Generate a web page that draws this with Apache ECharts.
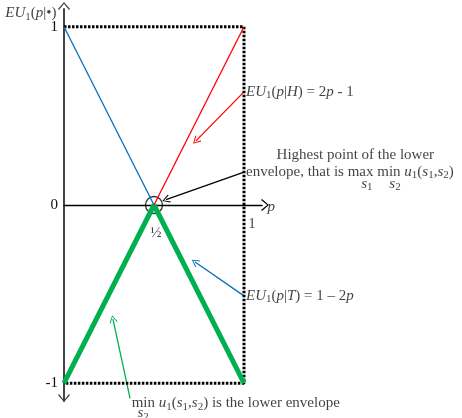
<!DOCTYPE html>
<html>
<head>
<meta charset="utf-8">
<script src="https://cdn.jsdelivr.net/npm/echarts@6/dist/echarts.min.js"></script>
<style>
  html, body { margin: 0; padding: 0; background: #fff; }
  #chart { width: 462px; height: 418px; }
</style>
</head>
<body>
<div id="chart"></div>
<script>
// probability p on the x axis, expected payoff on the y axis
var blueLine = [[0, 1], [0.5, 0]];          // EU1(p|T) = 1 - 2p, upper part
var redLine = [[0.5, 0], [1, 1]];           // EU1(p|H) = 2p - 1, upper part
var lowerEnvelope = [[0, -1], [0.5, 0], [1, -1]];
var boxLine = [[0, 1], [1, 1], [1, -1], [0, -1]];
var maxPoint = [[0.5, 0]];
var yTicks = [-1, 0, 1];

// annotation arrows: [from, to]
var arrows = [
  { from: [1, 0.635], to: [0.733, 0.36], color: '#ff0000' },
  { from: [1, 0.185], to: [0.567, 0.03], color: '#000000' },
  { from: [1, -0.51], to: [0.728, -0.32], color: '#0070c0' },
  { from: [0.367, -1.085], to: [0.272, -0.64], color: '#00b050' }
];

// chevron arrow head (tip on top)
var chevron = 'path://M0,0 L6,7 L5,7.9 L0,1.7 L-5,7.9 L-6,7 Z';

var font = 'Liberation Serif';
var txt = '#111';
var rich = {
  i: { fontStyle: 'italic', fontSize: 15, fontFamily: font, color: txt },
  n: { fontSize: 15, fontFamily: font, color: txt },
  sub: { fontSize: 11, fontFamily: font, color: txt, padding: [7, 0, 0, 0] }
};

var texts = [
  { value: [-0.03, 1.075], text: '{i|EU}{sub|1}{n|(}{i|p}{n||•)}', pos: 'left' },
  { value: [0.511, -0.155], text: '{n|½}', pos: 'inside' },
  { value: [1.044, -0.105], text: '{n|1}', pos: 'inside' },
  { value: [1.12, -0.012], text: '{i|p}', pos: 'right' },
  { value: [1.0, 0.635], text: '{i|EU}{sub|1}{n|(}{i|p}{n||}{i|H}{n|) = 2}{i|p}{n| - 1}', pos: 'right' },
  { value: [1.17, 0.28], text: '{n|Highest point of the lower}', pos: 'right' },
  { value: [1.0, 0.185], text: '{n|envelope, that is max min }{i|u}{sub|1}{n|(}{i|s}{sub|1}{n|,}{i|s}{sub|2}{n|)}', pos: 'right' },
  { value: [1.683, 0.12], text: '{i|s}{sub|1}', pos: 'inside' },
  { value: [1.839, 0.12], text: '{i|s}{sub|2}', pos: 'inside' },
  { value: [1.0, -0.51], text: '{i|EU}{sub|1}{n|(}{i|p}{n||}{i|T}{n|) = 1 – 2}{i|p}', pos: 'right' },
  { value: [0.365, -1.112], text: '{n|min }{i|u}{sub|1}{n|(}{i|s}{sub|1}{n|,}{i|s}{sub|2}{n|) is the lower envelope}', pos: 'right' },
  { value: [0.44, -1.17], text: '{i|s}{sub|2}', pos: 'inside' }
];

var chart = echarts.init(document.getElementById('chart'));

chart.setOption({
  animation: false,
  grid: { left: 64, right: 200, top: 9, bottom: 17, containLabel: false },
  xAxis: {
    type: 'value', min: 0, max: 1.1,
    axisLine: {
      onZero: true,
      lineStyle: { color: '#000', width: 1.3 },
      symbol: ['none', chevron],
      symbolSize: [12, 8],
      symbolOffset: [0, 3]
    },
    axisTick: { show: false },
    axisLabel: { show: false },
    splitLine: { show: false }
  },
  yAxis: {
    type: 'value', min: -1.1, max: 1.1,
    axisLine: {
      show: true,
      onZero: false,
      lineStyle: { color: '#444', width: 2 },
      symbol: [chevron, chevron],
      symbolSize: [12, 8],
      symbolOffset: [3, 3]
    },
    axisTick: { show: false },
    axisLabel: {
      customValues: yTicks,
      fontFamily: font, fontSize: 15, color: txt, margin: 6
    },
    splitLine: { show: false }
  },
  series: [
    {
      type: 'line', data: boxLine, symbol: 'none', clip: false,
      lineStyle: { color: '#000', width: 3, type: [2.5, 1.5] }
    },
    {
      type: 'line', data: lowerEnvelope, symbol: 'none', clip: false,
      lineStyle: { color: '#00b050', width: 5 }
    },
    {
      type: 'line', data: blueLine, symbol: 'none',
      lineStyle: { color: '#0070c0', width: 1.3 }
    },
    {
      type: 'line', data: redLine, symbol: 'none',
      lineStyle: { color: '#ff0000', width: 1.3 }
    },
    {
      type: 'scatter', data: maxPoint, symbol: 'circle', symbolSize: 17,
      itemStyle: { color: 'rgba(0,0,0,0)', borderColor: '#000', borderWidth: 1.3 }
    },
    {
      type: 'lines', coordinateSystem: 'cartesian2d', clip: false,
      symbol: ['none', chevron], symbolSize: [12, 8],
      data: arrows.map(function (a) {
        return { coords: [a.from, a.to], lineStyle: { color: a.color, width: 1.3, opacity: 1 } };
      })
    },
    {
      type: 'scatter', symbolSize: 0, clip: false, silent: true,
      data: texts.map(function (t) {
        return {
          value: t.value,
          label: {
            show: true, position: t.pos, distance: 2,
            formatter: t.text, rich: rich
          }
        };
      })
    }
  ]
});
</script>
</body>
</html>
